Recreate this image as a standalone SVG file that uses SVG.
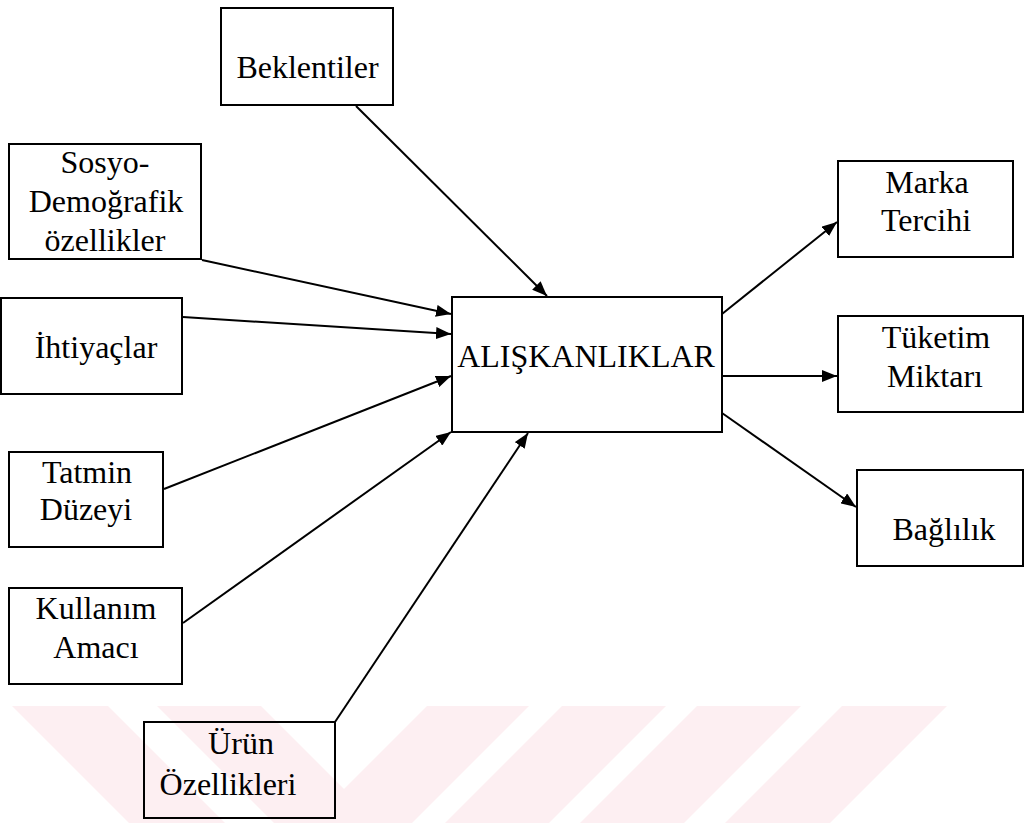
<svg xmlns="http://www.w3.org/2000/svg" width="1025" height="823" viewBox="0 0 1025 823">
<defs>
<style>
.box{fill:none;stroke:#000;stroke-width:2}
.edge{stroke:#000;stroke-width:2;fill:none;marker-end:url(#ah)}
.wm{fill:#fdeff2}
</style>
<marker id="ah" markerUnits="userSpaceOnUse" markerWidth="16" markerHeight="12" refX="15" refY="6" orient="auto">
<path d="M0,0 L15,6 L0,12 z" fill="#000"/>
</marker>
</defs>
<rect width="1025" height="823" fill="#fff"/>
<g id="watermark">
<polygon class="wm" points="12,706 108,706 225,823 129,823"/>
<polygon class="wm" points="157,706 261,706 378,823 274,823"/>
<polygon class="wm" points="427,706 529,706 412,823 310,823"/>
<polygon class="wm" points="562,706 666,706 549,823 445,823"/>
<polygon class="wm" points="697,706 801,706 684,823 580,823"/>
<polygon class="wm" points="842,706 947,706 830,823 725,823"/>
</g>
<g id="connectors">
<line class="edge" x1="356" y1="106" x2="547" y2="296"/>
<line class="edge" x1="202" y1="260" x2="451" y2="314"/>
<line class="edge" x1="183" y1="317" x2="451" y2="334"/>
<line class="edge" x1="164" y1="489" x2="451" y2="376"/>
<line class="edge" x1="183" y1="623" x2="451" y2="432"/>
<line class="edge" x1="335" y1="722" x2="528" y2="433"/>
<line class="edge" x1="722" y1="314" x2="837" y2="222"/>
<line class="edge" x1="722" y1="376" x2="837" y2="376"/>
<line class="edge" x1="722" y1="413" x2="856" y2="507"/>
</g>
<g font-family="Liberation Serif, Tinos, Times New Roman, DejaVu Serif, serif" font-size="32" fill="#000" text-anchor="middle">
<g id="beklentiler">
<rect class="box" x="221" y="8" width="172" height="97"/>
<text x="307.5" y="78">Beklentiler</text>
</g>
<g id="sosyo">
<rect class="box" x="9" y="144" width="192" height="115"/>
<text x="105" y="173">Sosyo-</text>
<text x="106" y="212">Demoğrafik</text>
<text x="105" y="251">özellikler</text>
</g>
<g id="ihtiyaclar">
<rect class="box" x="1" y="298" width="181" height="96"/>
<text x="96" y="358">İhtiyaçlar</text>
</g>
<g id="tatmin">
<rect class="box" x="9" y="452" width="154" height="95"/>
<text x="87" y="483">Tatmin</text>
<text x="86" y="520">Düzeyi</text>
</g>
<g id="kullanim">
<rect class="box" x="9" y="588" width="173" height="96"/>
<text x="96" y="619">Kullanım</text>
<text x="96" y="658">Amacı</text>
</g>
<g id="urun">
<rect class="box" x="144" y="722" width="191" height="96"/>
<text x="241" y="754">Ürün</text>
<text x="228" y="795">Özellikleri</text>
</g>
<g id="aliskanliklar">
<rect class="box" x="452" y="297" width="270" height="135"/>
<text x="586" y="367">ALIŞKANLIKLAR</text>
</g>
<g id="marka">
<rect class="box" x="838" y="161" width="175" height="96"/>
<text x="927" y="193">Marka</text>
<text x="926" y="231">Tercihi</text>
</g>
<g id="tuketim">
<rect class="box" x="838" y="316" width="185" height="96"/>
<text x="936" y="348">Tüketim</text>
<text x="935" y="387">Miktarı</text>
</g>
<g id="baglilik">
<rect class="box" x="857" y="470" width="166" height="96"/>
<text x="944" y="540">Bağlılık</text>
</g>
</g>
</svg>
